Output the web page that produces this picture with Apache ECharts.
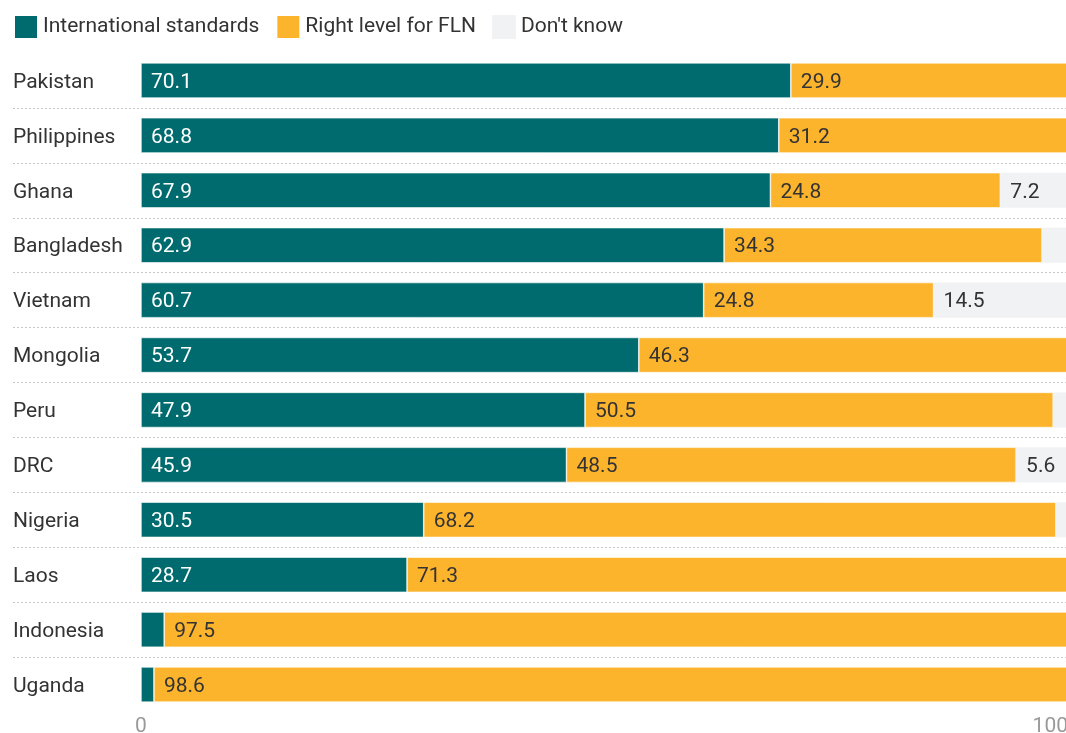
<!DOCTYPE html>
<html><head><meta charset="utf-8">
<script src="https://cdn.jsdelivr.net/npm/echarts@6/dist/echarts.min.js"></script>
<style>html,body{margin:0;padding:0;background:#fff}#c{width:1066px;height:733px}</style>
</head><body><div id="c"></div>
<script>
const categories = ['Pakistan','Philippines','Ghana','Bangladesh','Vietnam','Mongolia','Peru','DRC','Nigeria','Laos','Indonesia','Uganda'];
const intlStandards = [70.1,68.8,67.9,62.9,60.7,53.7,47.9,45.9,30.5,28.7,2.5,1.4];
const rightLevel = [29.9,31.2,24.8,34.3,24.8,46.3,50.5,48.5,68.2,71.3,97.5,98.6];
const dontKnow = [0,0,7.2,2.8,14.5,0,1.6,5.6,1.3,0,0,0];
const seriesNames = ['International standards','Right level for FLN',"Don't know"];
const xTicks = [0,100];

const colors = ['#006b6e','#fdb42d','#f0f2f4'];
const labelColors = ['#ffffff','#333333','#333333'];
const font = 'Roboto';
const fs = 21;
const chart = echarts.init(document.getElementById('c'));
function mk(name, data, i){
  return {
    name, type:'bar', stack:'s', data, barWidth:'64%',
    itemStyle:{color:colors[i], borderColor:'#ffffff', borderWidth:i===2?0:0.6},
    label:{show:true, position:'insideLeft', distance:10, offset:[0,2], color:labelColors[i],
      fontFamily:font, fontSize:fs,
      formatter:p=>p.value>=5?p.value.toFixed(1):''},
    emphasis:{disabled:true}, xAxisIndex:0, yAxisIndex:0
  };
}
chart.setOption({
  animation:false,
  textStyle:{fontFamily:font},
  legend:{left:13, top:14, padding:0, itemWidth:24, itemHeight:24, itemGap:16,
    icon:'rect', data:seriesNames,
    textStyle:{fontFamily:font, fontSize:fs, color:'#333', verticalAlign:'top', lineHeight:4}},
  grid:[
    {left:141,right:-2,top:53,bottom:21, outerBoundsMode:'none', containLabel:false},
    {left:13,right:-2,top:53,bottom:21, outerBoundsMode:'none', containLabel:false}
  ],
  xAxis:[
    {type:'value', min:0, max:100, interval:100, gridIndex:0,
     axisLine:{show:false}, axisTick:{show:false}, splitLine:{show:false},
     axisLabel:{color:'#9a9a9a', fontSize:fs, fontFamily:font, margin:4, alignMaxLabel:'right',
       formatter:v=>xTicks.includes(v)?String(v):''}},
    {type:'value', min:0, max:100, gridIndex:1, show:false}
  ],
  yAxis:[
    {type:'category', data:categories, inverse:true, gridIndex:0,
     axisLine:{show:false}, axisTick:{show:false},
     axisLabel:{align:'left', margin:128, color:'#333', fontSize:fs, fontFamily:font, verticalAlign:'top', lineHeight:4}},
    {type:'category', data:categories, inverse:true, gridIndex:1,
     axisLine:{show:false}, axisTick:{show:false}, axisLabel:{show:false},
     splitLine:{show:true, showMinLine:false, showMaxLine:false,
       lineStyle:{color:'#c8c8c8', type:[2,2], width:1}}}
  ],
  series: [mk(seriesNames[0], intlStandards, 0), mk(seriesNames[1], rightLevel, 1), mk(seriesNames[2], dontKnow, 2)]
});
</script></body></html>
